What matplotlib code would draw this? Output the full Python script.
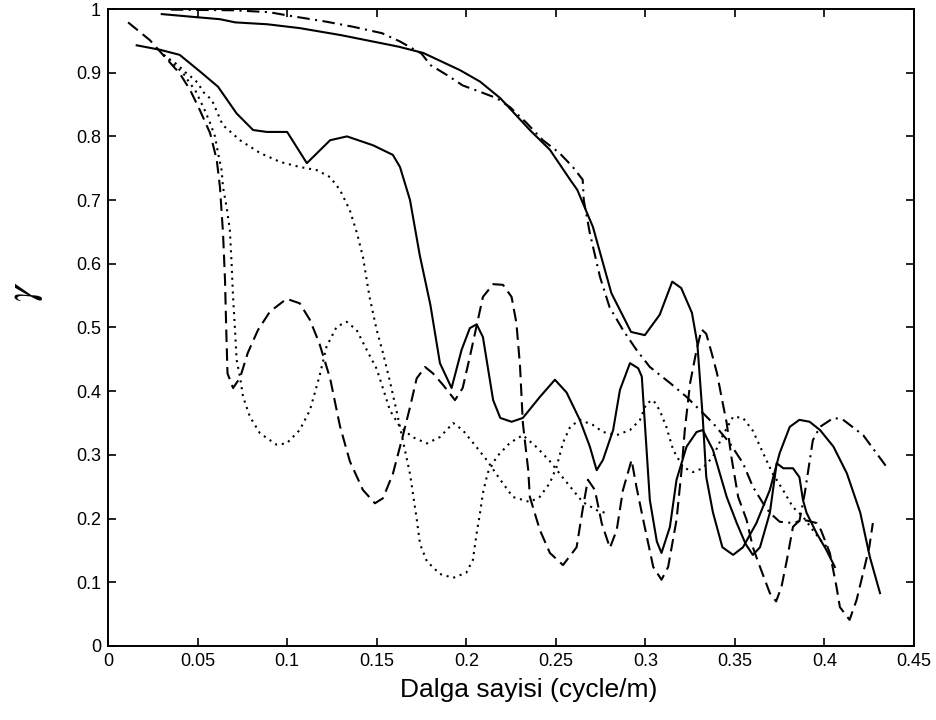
import matplotlib
matplotlib.use("Agg")
import matplotlib.pyplot as plt

# Solid line A (upper solid curve)
solid_a_x = [0.030, 0.050, 0.0625, 0.071, 0.089, 0.107, 0.130, 0.162, 0.176, 0.1965, 0.2077,
             0.219, 0.2355, 0.2467, 0.258, 0.262, 0.2707, 0.281, 0.292, 0.2997, 0.308, 0.315,
             0.320, 0.326, 0.329, 0.332, 0.334, 0.3377, 0.343, 0.349, 0.3545, 0.362, 0.3695,
             0.375, 0.3806, 0.386, 0.3917, 0.3975, 0.405, 0.4125, 0.420, 0.4253, 0.431]
solid_a_y = [0.992, 0.987, 0.984, 0.979, 0.976, 0.970, 0.959, 0.941, 0.931, 0.904, 0.886,
             0.860, 0.810, 0.779, 0.732, 0.716, 0.658, 0.554, 0.493, 0.488, 0.520, 0.572,
             0.562, 0.523, 0.475, 0.360, 0.265, 0.210, 0.155, 0.143, 0.155, 0.193, 0.245,
             0.303, 0.344, 0.355, 0.352, 0.339, 0.313, 0.271, 0.209, 0.140, 0.083]

# Solid line B (lower solid curve)
solid_b_x = [0.016, 0.029, 0.040, 0.0513, 0.0614, 0.0718, 0.081, 0.0887, 0.100, 0.111, 0.124,
             0.1334, 0.148, 0.159, 0.163, 0.1686, 0.174, 0.180, 0.1853, 0.1918, 0.1974, 0.202,
             0.2058, 0.2093, 0.215, 0.219, 0.2253, 0.2316, 0.2411, 0.2495, 0.256, 0.2634,
             0.269, 0.2728, 0.2763, 0.282, 0.2858, 0.2914, 0.296, 0.298, 0.3025, 0.3064, 0.309,
             0.3137, 0.3174, 0.323, 0.3286, 0.332, 0.3377, 0.3454, 0.351, 0.356, 0.360, 0.364,
             0.3695, 0.3733, 0.377, 0.3824, 0.386, 0.388, 0.390, 0.3956, 0.401, 0.4058]
solid_b_y = [0.943, 0.936, 0.928, 0.902, 0.878, 0.836, 0.810, 0.807, 0.807, 0.758, 0.794,
             0.800, 0.786, 0.771, 0.752, 0.700, 0.614, 0.535, 0.444, 0.405, 0.465, 0.499,
             0.505, 0.485, 0.386, 0.358, 0.352, 0.358, 0.391, 0.418, 0.398, 0.355,
             0.313, 0.276, 0.292, 0.339, 0.402, 0.444, 0.436, 0.423, 0.229, 0.164, 0.146,
             0.187, 0.261, 0.313, 0.336, 0.339, 0.308, 0.234, 0.193, 0.160, 0.143, 0.155,
             0.209, 0.287, 0.279, 0.279, 0.265, 0.229, 0.209, 0.177, 0.151, 0.124]

# Dash-dot line
dashdot_x = [0.035, 0.070, 0.090, 0.100, 0.122, 0.137, 0.153, 0.163, 0.175, 0.180, 0.190,
             0.198, 0.2077, 0.217, 0.2244, 0.2337, 0.2428, 0.252, 0.2595, 0.265, 0.2656,
             0.269, 0.2747, 0.280, 0.2875, 0.295, 0.3025, 0.3137, 0.323, 0.332, 0.3377, 0.347,
             0.3545, 0.360, 0.3657, 0.3695, 0.375, 0.3824, 0.386, 0.389, 0.3935, 0.3975,
             0.405, 0.410, 0.4216, 0.4347]
dashdot_y = [0.999, 0.998, 0.995, 0.990, 0.980, 0.972, 0.962, 0.949, 0.930, 0.912, 0.895,
             0.880, 0.870, 0.860, 0.846, 0.821, 0.794, 0.774, 0.752, 0.732, 0.700,
             0.648, 0.579, 0.532, 0.496, 0.465, 0.438, 0.413, 0.391, 0.366, 0.350, 0.319,
             0.287, 0.250, 0.224, 0.209, 0.195, 0.193, 0.196, 0.240, 0.323, 0.344,
             0.358, 0.356, 0.331, 0.281]

# Dashed line
dashed_x = [0.0112, 0.0234, 0.0307, 0.040, 0.0458, 0.0513, 0.057, 0.0607, 0.0625, 0.0642,
            0.0653, 0.066, 0.0667, 0.0698, 0.0737, 0.078, 0.0837, 0.0904, 0.0997, 0.107,
            0.1127, 0.118, 0.124, 0.1295, 0.135, 0.1423, 0.149, 0.1535, 0.159, 0.1646,
            0.1686, 0.1723, 0.177, 0.1814, 0.187, 0.1937, 0.198, 0.202, 0.2065, 0.2093, 0.215,
            0.2205, 0.2253, 0.228, 0.230, 0.2316, 0.2346, 0.2355, 0.2411, 0.2467, 0.254,
            0.2616, 0.2652, 0.2679, 0.2718, 0.2756, 0.2802, 0.284, 0.2875, 0.2923, 0.295,
            0.2988, 0.3044, 0.309, 0.3127, 0.3174, 0.3202, 0.322, 0.325, 0.3286, 0.3314,
            0.334, 0.337, 0.340, 0.3425, 0.3454, 0.348, 0.3518, 0.3565, 0.360, 0.364, 0.3695,
            0.373, 0.376, 0.379, 0.3824, 0.386, 0.390, 0.3956, 0.398, 0.403, 0.4067, 0.4086,
            0.414, 0.4179, 0.4216, 0.425, 0.427]
dashed_y = [0.979, 0.951, 0.928, 0.899, 0.873, 0.841, 0.805, 0.763, 0.720, 0.648,
            0.575, 0.496, 0.428, 0.405, 0.421, 0.460, 0.496, 0.525, 0.545, 0.538,
            0.512, 0.475, 0.420, 0.345, 0.290, 0.245, 0.224, 0.232, 0.270, 0.330,
            0.375, 0.420, 0.438, 0.428, 0.410, 0.386, 0.405, 0.454, 0.512, 0.548, 0.568,
            0.567, 0.548, 0.507, 0.440, 0.350, 0.276, 0.234, 0.182, 0.146, 0.127,
            0.155, 0.218, 0.261, 0.245, 0.193, 0.154, 0.182, 0.245, 0.292, 0.250,
            0.198, 0.124, 0.104, 0.124, 0.198, 0.276, 0.339, 0.413, 0.465, 0.497,
            0.490, 0.460, 0.428, 0.391, 0.350, 0.297, 0.234, 0.198, 0.155, 0.124, 0.083,
            0.070, 0.093, 0.135, 0.187, 0.197, 0.197, 0.193, 0.182, 0.146, 0.093, 0.061,
            0.041, 0.072, 0.115, 0.155, 0.193]

# Dotted line P (plateau near 0.75, deep minimum near 0.19)
dotted_p_x = [0.031, 0.039, 0.043, 0.047, 0.0502, 0.053, 0.058, 0.064, 0.0737, 0.0848, 0.096,
              0.107, 0.1166, 0.124, 0.1295, 0.135, 0.139, 0.1423, 0.146, 0.150, 0.1535,
              0.1574, 0.161, 0.1648, 0.1686, 0.1723, 0.1742, 0.178, 0.1853, 0.1927, 0.200,
              0.2037, 0.2058, 0.2077, 0.2093, 0.212, 0.217, 0.2244, 0.2316, 0.2393, 0.2467,
              0.254, 0.2595, 0.265, 0.273, 0.2776]
dotted_p_y = [0.928, 0.912, 0.901, 0.892, 0.884, 0.870, 0.857, 0.818, 0.794, 0.774, 0.760,
              0.752, 0.747, 0.736, 0.716, 0.684, 0.648, 0.611, 0.548, 0.496, 0.460,
              0.415, 0.370, 0.320, 0.270, 0.200, 0.160, 0.133, 0.113, 0.107, 0.115,
              0.135, 0.177, 0.209, 0.240, 0.272, 0.297, 0.319, 0.331, 0.312, 0.290,
              0.264, 0.245, 0.226, 0.213, 0.209]

# Dotted line Q (steep drop near 0.07, oscillating)
dotted_q_x = [0.031, 0.042, 0.0458, 0.0486, 0.0513, 0.054, 0.057, 0.0597, 0.0614, 0.0634,
              0.0642, 0.0662, 0.068, 0.069, 0.0698, 0.0709, 0.0718, 0.0737, 0.0754, 0.0792,
              0.0848, 0.0941, 0.0997, 0.107, 0.1127, 0.118, 0.122, 0.1276, 0.1332, 0.1388,
              0.1444, 0.150, 0.1574, 0.163, 0.170, 0.178, 0.1853, 0.1927, 0.198, 0.2058,
              0.2114, 0.219, 0.226, 0.2355, 0.241, 0.2467, 0.2504, 0.254, 0.258, 0.2634,
              0.2707, 0.2763, 0.284, 0.2914, 0.297, 0.3006, 0.3044, 0.308, 0.3117, 0.3155,
              0.321, 0.3266, 0.332, 0.3377, 0.3433, 0.349, 0.3545, 0.360, 0.3657, 0.371,
              0.3768, 0.3824, 0.388, 0.3935, 0.399, 0.403]
dotted_q_y = [0.928, 0.899, 0.883, 0.873, 0.857, 0.841, 0.821, 0.800, 0.774, 0.747,
              0.720, 0.689, 0.653, 0.600, 0.548, 0.496, 0.449, 0.422, 0.391, 0.360,
              0.334, 0.316, 0.318, 0.339, 0.370, 0.423, 0.470, 0.501, 0.509, 0.496,
              0.465, 0.435, 0.370, 0.344, 0.328, 0.318, 0.328, 0.350, 0.339, 0.312,
              0.292, 0.261, 0.234, 0.226, 0.234, 0.256, 0.281, 0.319, 0.344, 0.355,
              0.347, 0.336, 0.331, 0.339, 0.355, 0.381, 0.386, 0.370, 0.344, 0.308,
              0.281, 0.273, 0.279, 0.297, 0.331, 0.360, 0.358, 0.338, 0.303, 0.271,
              0.245, 0.218, 0.203, 0.182, 0.162, 0.151]

x_ticks = [0, 0.05, 0.1, 0.15, 0.2, 0.25, 0.3, 0.35, 0.4, 0.45]
x_tick_labels = ["0", "0.05", "0.1", "0.15", "0.2", "0.25", "0.3", "0.35", "0.4", "0.45"]
y_ticks = [0, 0.1, 0.2, 0.3, 0.4, 0.5, 0.6, 0.7, 0.8, 0.9, 1.0]
y_tick_labels = ["0", "0.1", "0.2", "0.3", "0.4", "0.5", "0.6", "0.7", "0.8", "0.9", "1"]

plt.rcParams['font.family'] = ['Liberation Sans', 'DejaVu Sans']
plt.rcParams['mathtext.fontset'] = 'stix'

fig = plt.figure(figsize=(9.37, 7.2), dpi=100)
ax = fig.add_axes([0.1153, 0.1028, 0.8602, 0.8847])

lw = 1.5
ax.plot(solid_a_x, solid_a_y, color='k', lw=lw, linestyle='-')
ax.plot(solid_b_x, solid_b_y, color='k', lw=lw, linestyle='-')
ax.plot(dashdot_x, dashdot_y, color='k', lw=lw, linestyle=(0, (6.0, 2.6, 1.0, 2.6)))
ax.plot(dashed_x, dashed_y, color='k', lw=lw, linestyle=(0, (6.0, 3.0)))
ax.plot(dotted_p_x, dotted_p_y, color='k', lw=lw, linestyle=(0, (1.0, 2.3)))
ax.plot(dotted_q_x, dotted_q_y, color='k', lw=lw, linestyle=(0, (1.0, 2.3)))

ax.set_xlim(0, 0.45)
ax.set_ylim(0, 1)
ax.set_xticks(x_ticks)
ax.set_xticklabels(x_tick_labels)
ax.set_yticks(y_ticks)
ax.set_yticklabels(y_tick_labels)
ax.tick_params(direction='in', length=6, width=1.2, top=True, right=True,
               labelsize=13, pad=5)
for side in ax.spines.values():
    side.set_linewidth(1.4)

ax.set_xlabel('Dalga sayisi (cycle/m)', fontsize=19, va='top')
ax.xaxis.set_label_coords(0.522, -0.050)
# the gamma label sits rotated on the left, centred about 25 px from the edge
ax.text(-0.103, 0.556, r'$\gamma$', fontsize=30, rotation=90,
        ha='center', va='center', transform=ax.transAxes)

fig.savefig('out.png', dpi=100)
